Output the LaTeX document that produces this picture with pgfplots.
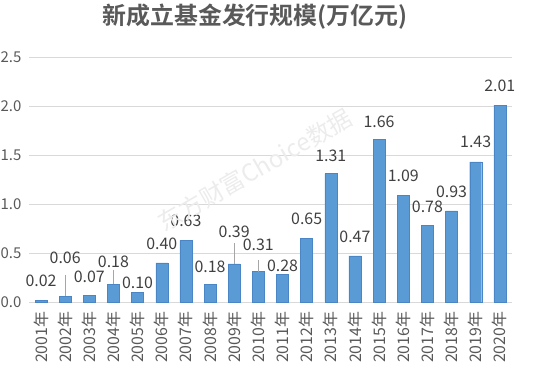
\documentclass[border=0pt]{standalone}
\usepackage{pgfplots}
\pgfplotsset{compat=1.18}
\usepackage{fontspec}
\setmainfont{Noto Sans CJK SC}
\newfontfamily\titlefont{Noto Sans CJK SC Bold}
\definecolor{barfill}{HTML}{5B9BD5}
\definecolor{baredge}{HTML}{4A86C5}
\definecolor{gridc}{HTML}{D9D9D9}
\definecolor{labc}{HTML}{404040}
\definecolor{tickc}{HTML}{595959}
\begin{document}
\begin{tikzpicture}
\begin{axis}[
  at={(41bp,80bp)}, anchor=origin,
  scale only axis, width=483bp, height=245bp,
  xmin=-0.5, xmax=19.5, ymin=0, ymax=2.5,
  ybar, bar width=12bp,
  xtick={0,...,19},
  xticklabels={2001年,2002年,2003年,2004年,2005年,2006年,2007年,2008年,2009年,2010年,2011年,2012年,2013年,2014年,2015年,2016年,2017年,2018年,2019年,2020年},
  xticklabel style={rotate=90, anchor=east, font=\fontsize{16}{16}\selectfont, text=tickc},
  xticklabel shift=6bp,
  ytick={0,0.5,1,1.5,2,2.5},
  yticklabel style={/pgf/number format/fixed, /pgf/number format/fixed zerofill, /pgf/number format/precision=1, /pgf/number format/assume math mode=true, font=\fontsize{15}{15}\selectfont, text=tickc, xshift=-4bp},
  major tick length=0pt,
  ymajorgrids, grid style={gridc, line width=0.8pt},
  axis x line*=bottom, axis y line*=left,
  x axis line style={draw=gridc, line width=0.8pt},
  y axis line style={draw=none},
  axis line style={-},
  clip=false,
  point meta=explicit symbolic,
  nodes near coords,
  visualization depends on={\thisrow{dy}\as\dy},
  every node near coord/.append style={anchor=center, yshift=\dy bp, font=\fontsize{16}{16}\selectfont, text=labc},
]
\addplot[draw=baredge, line width=0.4pt, fill=barfill,
  error bars/.cd, y dir=plus, y explicit, error mark=none,
  error bar style={draw=gray!70, line width=0.6pt, fill=none}]
  table[x=x, y=y, meta=lab, y error=e] {
x y lab dy e
0 0.02 0.02 19 0
1 0.06 0.06 38 0.216
2 0.07 0.07 18 0
3 0.18 0.18 23 0.147
4 0.10 0.10 9 0
5 0.40 0.40 19 0
6 0.63 0.63 19 0
7 0.18 0.18 18 0
8 0.39 0.39 32 0.21
9 0.31 0.31 27 0.12
10 0.28 0.28 9 0
11 0.65 0.65 19 0
12 1.31 1.31 18 0
13 0.47 0.47 19 0
14 1.66 1.66 18 0
15 1.09 1.09 19 0
16 0.78 0.78 19 0
17 0.93 0.93 19 0
18 1.43 1.43 20 0
19 2.01 2.01 19 0
};
\end{axis}
\node[rotate=30, text=gray!15, font=\fontsize{24}{24}\selectfont] at (255bp,212bp) {东方财富Choice数据};
\node[text=tickc, font=\titlefont\fontsize{24}{24}\selectfont] at (255bp,365bp) {新成立基金发行规模(万亿元)};
\pgfresetboundingbox
\path (0,0) rectangle (542bp,382bp);
\end{tikzpicture}
\end{document}
